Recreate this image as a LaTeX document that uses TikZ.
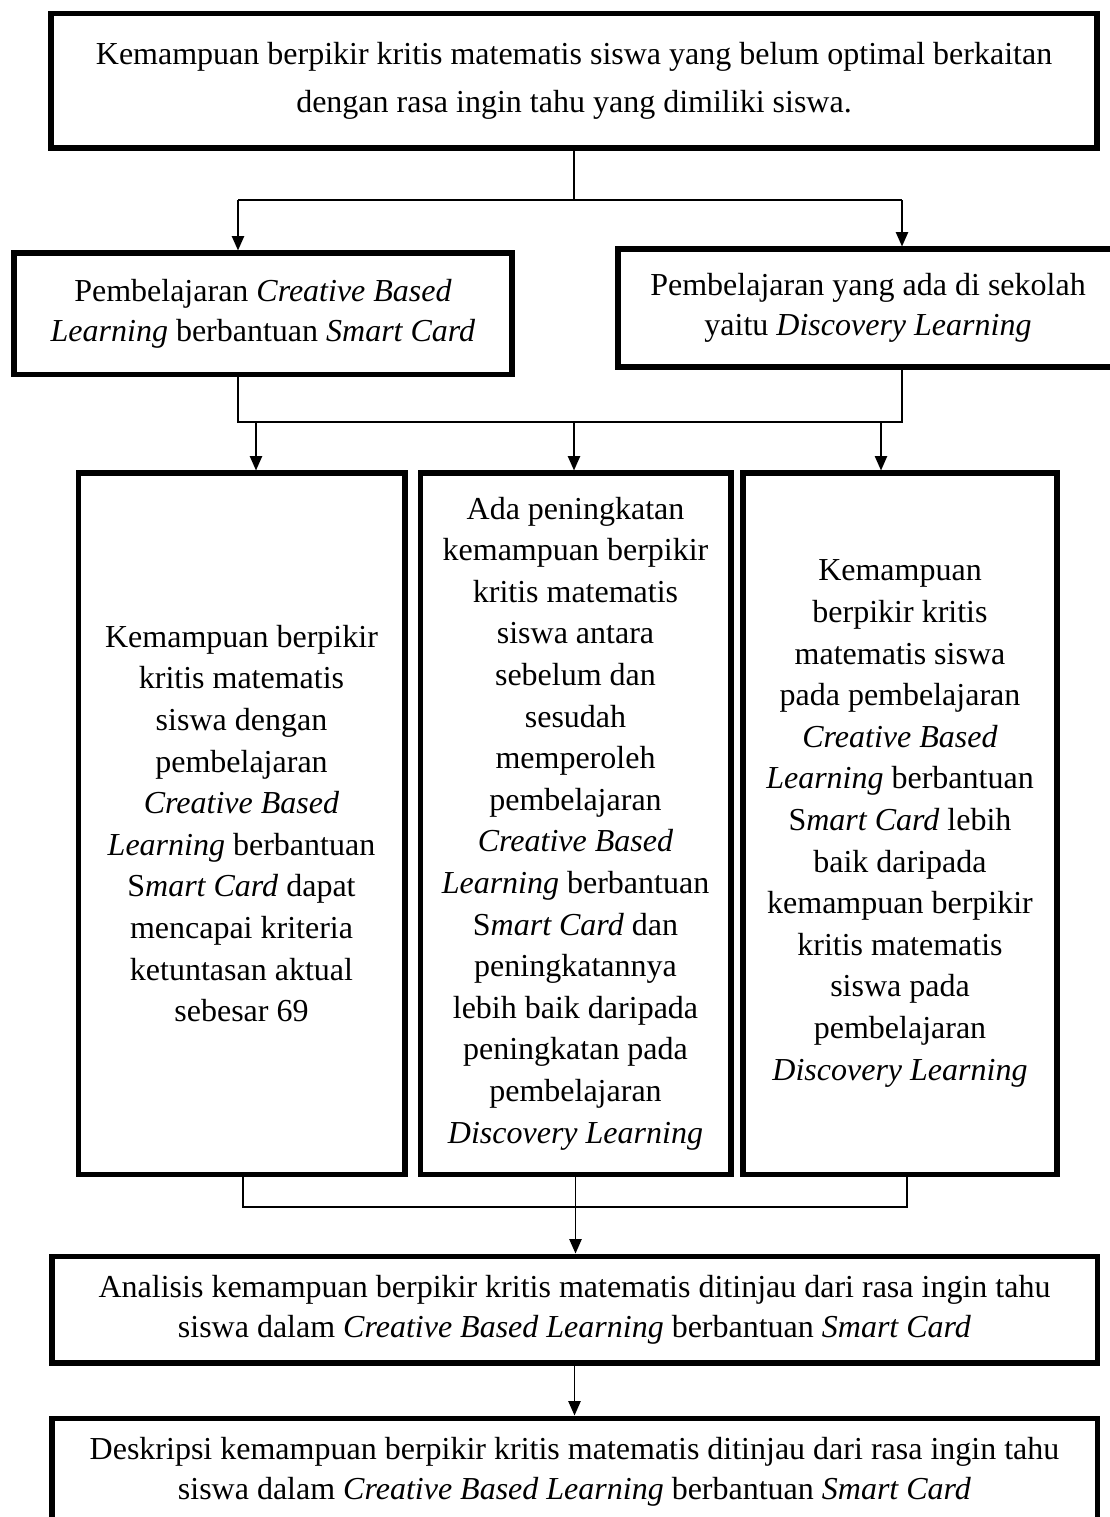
\documentclass[tikz,border=0pt]{standalone}
\usepackage{fontspec}
\setmainfont{Liberation Serif}
\usetikzlibrary{arrows.meta}

\begin{document}
\begin{tikzpicture}[x=0.375pt, y=-0.375pt,
	box/.style={draw, line width=1.9pt, align=center, inner sep=2pt, font=\fontsize{12}{15}\selectfont},
	tall/.style={box, minimum height=262.9pt, font=\fontsize{12}{15.6}\selectfont},
	link/.style={line width=0.6pt},
	arr/.style={link, -{Triangle[length=5.4pt,width=4.6pt]}},]

\useasboundingbox (0,0) rectangle (1110,1517);

\node[box, minimum width=392.25pt, minimum height=50.6pt, font=\fontsize{12}{18}\selectfont] (masalah) at (574,80.5)
	{Kemampuan berpikir kritis matematis siswa yang belum optimal berkaitan\\ dengan rasa ingin tahu yang dimiliki siswa.};
\node[box, minimum width=186.75pt, minimum height=45.4pt] (cbl) at (263,313.5)
	{Pembelajaran \textit{Creative Based}\\ \textit{Learning} berbantuan \textit{Smart Card}};
\node[box, minimum width=187.5pt, minimum height=44.25pt] (dl) at (868,308)
	{Pembelajaran yang ada di sekolah\\ yaitu \textit{Discovery Learning}};

\node[tall, minimum width=122.6pt] (hipa) at (241.5,823.5)
	{Kemampuan berpikir\\ kritis matematis\\ siswa dengan\\ pembelajaran\\ \textit{Creative Based}\\ \textit{Learning} berbantuan\\ S\textit{mart Card} dapat\\ mencapai kriteria\\ ketuntasan aktual\\ sebesar 69};
\node[tall, minimum width=116.6pt] (hipb) at (575.5,823.5)
	{Ada peningkatan\\ kemampuan berpikir\\ kritis matematis\\ siswa antara\\ sebelum dan\\ sesudah\\ memperoleh\\ pembelajaran\\ \textit{Creative Based}\\ \textit{Learning} berbantuan\\ S\textit{mart Card} dan\\ peningkatannya\\ lebih baik daripada\\ peningkatan pada\\ pembelajaran\\ \textit{Discovery Learning}};
\node[tall, minimum width=117.75pt] (hipc) at (900,823.5)
	{Kemampuan\\ berpikir kritis\\ matematis siswa\\ pada pembelajaran\\ \textit{Creative Based}\\ \textit{Learning} berbantuan\\ S\textit{mart Card} lebih\\ baik daripada\\ kemampuan berpikir\\ kritis matematis\\ siswa pada\\ pembelajaran\\ \textit{Discovery Learning}};

\node[box, minimum width=391.9pt, minimum height=40.1pt] (analisis) at (574.5,1309.5)
	{Analisis kemampuan berpikir kritis matematis ditinjau dari rasa ingin tahu\\ siswa dalam \textit{Creative Based Learning} berbantuan \textit{Smart Card}};
\node[box, minimum width=391.9pt, minimum height=40.1pt] (deskripsi) at (574.5,1471.5)
	{Deskripsi kemampuan berpikir kritis matematis ditinjau dari rasa ingin tahu\\ siswa dalam \textit{Creative Based Learning} berbantuan \textit{Smart Card}};

% branch points
\coordinate (j0) at (574,200);
\coordinate (s1) at (238,200);
\coordinate (s2) at (902,200);
\coordinate (t1) at (238,422);
\coordinate (t2) at (902,422);
\coordinate (u1) at (256,422);
\coordinate (u2) at (574,422);
\coordinate (u3) at (881,422);
\coordinate (v1) at (243,1207);
\coordinate (v3) at (907,1207);

\draw[link] (masalah) -- (j0);
\draw[link] (s1) -- (s2);
\draw[arr] (s1) -- (s1 |- cbl.north);
\draw[arr] (s2) -- (s2 |- dl.north);

\draw[link] (cbl.south -| t1) -- (t1) -- (t2) -- (dl.south -| t2);
\draw[arr] (u1) -- (u1 |- hipa.north);
\draw[arr] (u2) -- (u2 |- hipb.north);
\draw[arr] (u3) -- (u3 |- hipc.north);

\draw[link] (hipa.south -| v1) -- (v1) -- (v3) -- (hipc.south -| v3);
\draw[arr] (hipb.south) -- (hipb.south |- analisis.north);
\draw[arr] (analisis) -- (deskripsi);

\end{tikzpicture}
\end{document}
